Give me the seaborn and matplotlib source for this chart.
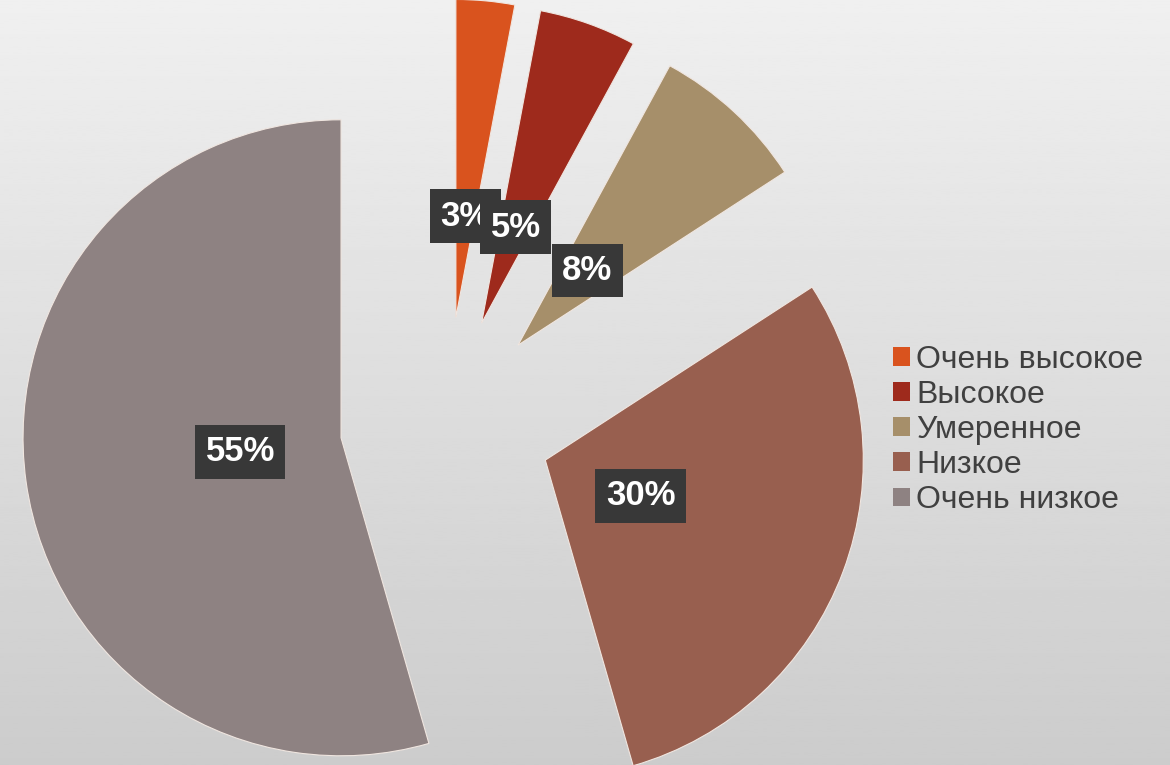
import numpy as np
import matplotlib
matplotlib.use("Agg")
import matplotlib.pyplot as plt
from matplotlib.patches import Patch
import seaborn as sns

# Data
categories = ["Очень высокое", "Высокое", "Умеренное", "Низкое", "Очень низкое"]
shares = [3, 5, 8, 30, 55]
slice_colors = ["#d9531e", "#9e2a1c", "#a68f6a", "#985f4f", "#8e8282"]

sns.set_theme(style="white")
plt.rcParams["font.family"] = ["Liberation Sans", "DejaVu Sans"]

W, H = 1170, 765
fig = plt.figure(figsize=(W / 100, H / 100), dpi=100)

# Soft vertical grey gradient behind the chart
bg = fig.add_axes([0, 0, 1, 1], zorder=0)
grad = np.linspace(0.94, 0.80, 256)[:, None]
bg.imshow(grad, cmap="gray", vmin=0, vmax=1, aspect="auto", extent=[0, 1, 0, 1])
bg.axis("off")

# Pie axes in pixel-like units so the layout is easy to control
ax = fig.add_axes([0, 0, 1, 1], zorder=1)
ax.patch.set_alpha(0)
total = sum(shares)
wedges, texts, autotexts = ax.pie(
    shares,
    colors=slice_colors,
    startangle=90,
    counterclock=False,
    explode=[106] * len(shares),
    radius=318,
    center=(446, 342),
    autopct=lambda p: f"{round(p * total / 100)}%",
    pctdistance=0.32,
    wedgeprops=dict(edgecolor="#f0e6e0", linewidth=0.8),
)
for t in autotexts:
    t.set_color("white")
    t.set_fontsize(25)
    t.set_fontweight("bold")
    t.set_bbox(dict(boxstyle="square,pad=0.3", fc="#383838", ec="none"))

ax.set_xlim(0, W)
ax.set_ylim(0, H)
ax.set_aspect("equal")
ax.axis("off")

handles = [Patch(facecolor=c, edgecolor="none") for c in slice_colors]
leg = fig.legend(
    handles, categories,
    loc="center left", bbox_to_anchor=(893 / W, 1 - 430 / H),
    frameon=False, fontsize=23,
    handlelength=0.52, handleheight=0.52, handletextpad=0.2,
    labelspacing=0.16, borderpad=0, borderaxespad=0,
)
for txt in leg.get_texts():
    txt.set_color("#404040")

fig.savefig("out.png", dpi=100)
